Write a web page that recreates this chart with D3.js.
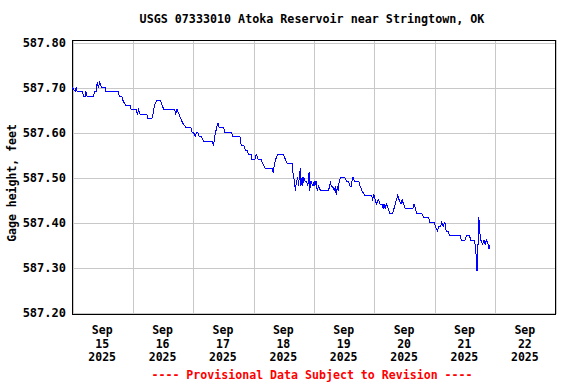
<!DOCTYPE html>
<html>
<head>
<meta charset="utf-8">
<script src="https://cdn.jsdelivr.net/npm/d3@7"></script>
<style>
  body { margin: 0; background: #fff; }
  text { font-family: "DejaVu Sans Mono", monospace; font-weight: bold; }
</style>
</head>
<body>
<div id="chart"></div>
<script>
const title = 'USGS 07333010 Atoka Reservoir near Stringtown, OK'
const yTitle = 'Gage height, feet'
const footer = '---- Provisional Data Subject to Revision ----'

// hours after Sep 15 2025 00:00
const hours = [
  0, 1.25, 1.75, 2, 4.25, 4.5, 5.25, 5.5, 6, 8.5, 9, 9.75, 10, 10.5, 11, 11.75, 13.25, 13.5,
  17.5, 18.5, 18.75, 19.75, 20.25, 21.25, 23, 23.5, 25.5, 26, 26.5, 27, 29.75, 30, 31.75,
  32.25, 32.75, 33.75, 35.25, 35.75, 36.5, 40.75, 41.25, 41.75, 42.5, 43.25, 44, 45.25,
  47.25, 47.75, 48.25, 49, 49.5, 50, 50.5, 51.5, 52.25, 55.75, 56.25, 56.75, 57.5, 58,
  58.5, 60.25, 60.75, 63.25, 64, 66.75, 67.25, 68.25, 69, 69.5, 70.25, 71.25, 71.5, 72.75,
  73.25, 74, 75.25, 75.75, 76.75, 79.5, 80, 80.5, 81, 81.75, 84, 84.75, 85.5, 87.5, 88,
  88.5, 88.75, 89.25, 89.75, 90, 90.75, 91, 91.5, 91.75, 92, 92.75, 93.25, 93.75, 94.25,
  94.5, 95, 95.75, 96.25, 96.5, 97, 97.5, 98, 98.75, 102, 102.75, 103, 103.5, 104.25,
  104.75, 105, 105.5, 105.75, 106.25, 106.75, 108.25, 109.25, 110, 110.5, 111, 111.25,
  111.75, 112.25, 114, 114.5, 115.25, 116.25, 119, 119.5, 120, 120.5, 121, 121.75, 122.5,
  123.25, 123.75, 124, 124.5, 125, 125.75, 126.25, 127.5, 128, 128.5, 129, 129.5, 130,
  130.75, 131.25, 131.75, 132.5, 135.5, 136, 136.5, 137, 139, 139.75, 141.75, 142.25, 144,
  144.5, 145.25, 145.75, 146.5, 147, 147.5, 148.25, 148.75, 149.5, 150, 154.25, 154.75,
  156.25, 156.75, 158, 158.5, 159.75, 160.25, 160.75, 161, 161.25, 161.5, 161.75, 162,
  162.5, 163.25, 163.75, 164.25, 164.75, 165.5, 165.75, 166.25
]

const gageHeight = [
  587.70, 587.69, 587.70, 587.69, 587.69, 587.68, 587.68, 587.69, 587.68, 587.68, 587.69, 587.69, 587.71, 587.70, 587.71, 587.70, 587.70, 587.69,
  587.69, 587.69, 587.68, 587.68, 587.67, 587.66, 587.66, 587.65, 587.65, 587.64, 587.65, 587.64, 587.64, 587.63, 587.63,
  587.64, 587.66, 587.67, 587.67, 587.66, 587.65, 587.65, 587.64, 587.65, 587.64, 587.63, 587.62, 587.61,
  587.61, 587.60, 587.60, 587.59, 587.60, 587.60, 587.59, 587.59, 587.58, 587.58, 587.57, 587.59, 587.61, 587.62,
  587.61, 587.61, 587.60, 587.60, 587.59, 587.59, 587.57, 587.57, 587.56, 587.56, 587.55, 587.55, 587.54, 587.54,
  587.55, 587.54, 587.54, 587.53, 587.52, 587.52, 587.51, 587.53, 587.54, 587.55, 587.55, 587.54, 587.53, 587.53, 587.50,
  587.49, 587.47, 587.49, 587.50, 587.48, 587.52, 587.48, 587.50, 587.48, 587.50, 587.49, 587.49, 587.48, 587.51,
  587.47, 587.49, 587.48, 587.49, 587.48, 587.49, 587.47, 587.48, 587.47, 587.47, 587.49, 587.48, 587.48, 587.47,
  587.48, 587.46, 587.48, 587.47, 587.49, 587.50, 587.50, 587.49, 587.49, 587.48, 587.48, 587.49,
  587.50, 587.49, 587.49, 587.48, 587.47, 587.46, 587.46, 587.45, 587.46, 587.45, 587.44, 587.45, 587.44,
  587.44, 587.43, 587.44, 587.43, 587.44, 587.43, 587.42, 587.42, 587.43, 587.44, 587.45, 587.46, 587.45,
  587.44, 587.45, 587.44, 587.43, 587.43, 587.44, 587.43, 587.42, 587.42, 587.41, 587.41, 587.40, 587.40,
  587.39, 587.38, 587.39, 587.39, 587.40, 587.39, 587.40, 587.38, 587.38, 587.37, 587.37, 587.36,
  587.36, 587.37, 587.37, 587.36, 587.36, 587.35, 587.32, 587.29, 587.32, 587.37, 587.41, 587.38,
  587.36, 587.35, 587.36, 587.35, 587.36, 587.35, 587.34, 587.35
]

const yTicks = [587.20, 587.30, 587.40, 587.50, 587.60, 587.70, 587.80]
const dayLabels = ['15', '16', '17', '18', '19', '20', '21', '22']
const monthLabel = 'Sep'
const yearLabel = '2025'

const width = 576
const height = 384
const plotLeft = 72, plotRight = 555, plotTop = 40, plotBottom = 314

const start = new Date(2025, 8, 15)
const end = new Date(2025, 8, 23)

const data = hours.map((h, i) => ({ t: d3.timeMinute.offset(start, h * 60), v: gageHeight[i] }))

const svg = d3.select('#chart')
  .append('svg')
  .attr('width', width)
  .attr('height', height)

const x = d3.scaleTime()
  .domain([start, end])
  .range([plotLeft, plotRight])

const y = d3.scaleLinear()
  .domain([587.20, 587.80])
  .range([312, 42])

// grid
const days = d3.timeDay.range(start, d3.timeDay.offset(end, 1))
svg.append('g')
  .attr('transform', `translate(0.5,${plotBottom})`)
  .call(d3.axisBottom(x).tickValues(days).tickSize(-(plotBottom - plotTop)).tickFormat(''))
  .call(g => g.select('.domain').remove())
  .call(g => g.selectAll('line').attr('stroke', '#c8c8c8').attr('shape-rendering', 'crispEdges'))

svg.append('g')
  .attr('transform', `translate(${plotLeft},0.5)`)
  .call(d3.axisLeft(y).tickValues(yTicks).tickSize(-(plotRight - plotLeft)).tickPadding(6).tickFormat(d3.format('.2f')))
  .call(g => g.select('.domain').remove())
  .call(g => g.selectAll('line').attr('stroke', '#c8c8c8').attr('shape-rendering', 'crispEdges'))
  .call(g => g.selectAll('text').attr('font-size', 12).attr('fill', '#000')
    .attr('font-family', '"DejaVu Sans Mono", monospace').attr('font-weight', 'bold'))

// frame
svg.append('rect')
  .attr('x', plotLeft + 0.5)
  .attr('y', plotTop + 0.5)
  .attr('width', plotRight - plotLeft)
  .attr('height', plotBottom - plotTop)
  .attr('fill', 'none')
  .attr('stroke', '#000')
  .attr('shape-rendering', 'crispEdges')

// series
const line = d3.line()
  .x(d => x(d.t))
  .y(d => y(d.v))

svg.append('path')
  .datum(data)
  .attr('d', line)
  .attr('fill', 'none')
  .attr('stroke', '#0000ff')
  .attr('stroke-width', 1)
  .attr('shape-rendering', 'crispEdges')

// day labels at noon
const dayText = svg.append('g')
  .selectAll('text')
  .data(dayLabels)
  .enter()
  .append('text')
  .attr('text-anchor', 'middle')
  .attr('font-size', 11.5)

dayText.each(function (d, i) {
  const cx = x(d3.timeHour.offset(start, i * 24 + 12))
  const t = d3.select(this)
  ;[monthLabel, d, yearLabel].forEach((s, k) => {
    t.append('tspan').attr('x', cx).attr('y', 334 + k * 13.5).text(s)
  })
})

// titles
svg.append('text')
  .attr('x', 312)
  .attr('y', 23)
  .attr('text-anchor', 'middle')
  .attr('font-size', 11.7)
  .text(title)

svg.append('text')
  .attr('transform', 'translate(16,183) rotate(-90)')
  .attr('text-anchor', 'middle')
  .attr('font-size', 11.5)
  .text(yTitle)

svg.append('text')
  .attr('x', 312)
  .attr('y', 379)
  .attr('text-anchor', 'middle')
  .attr('font-size', 11.6)
  .attr('fill', '#ff0000')
  .text(footer)
</script>
</body>
</html>
